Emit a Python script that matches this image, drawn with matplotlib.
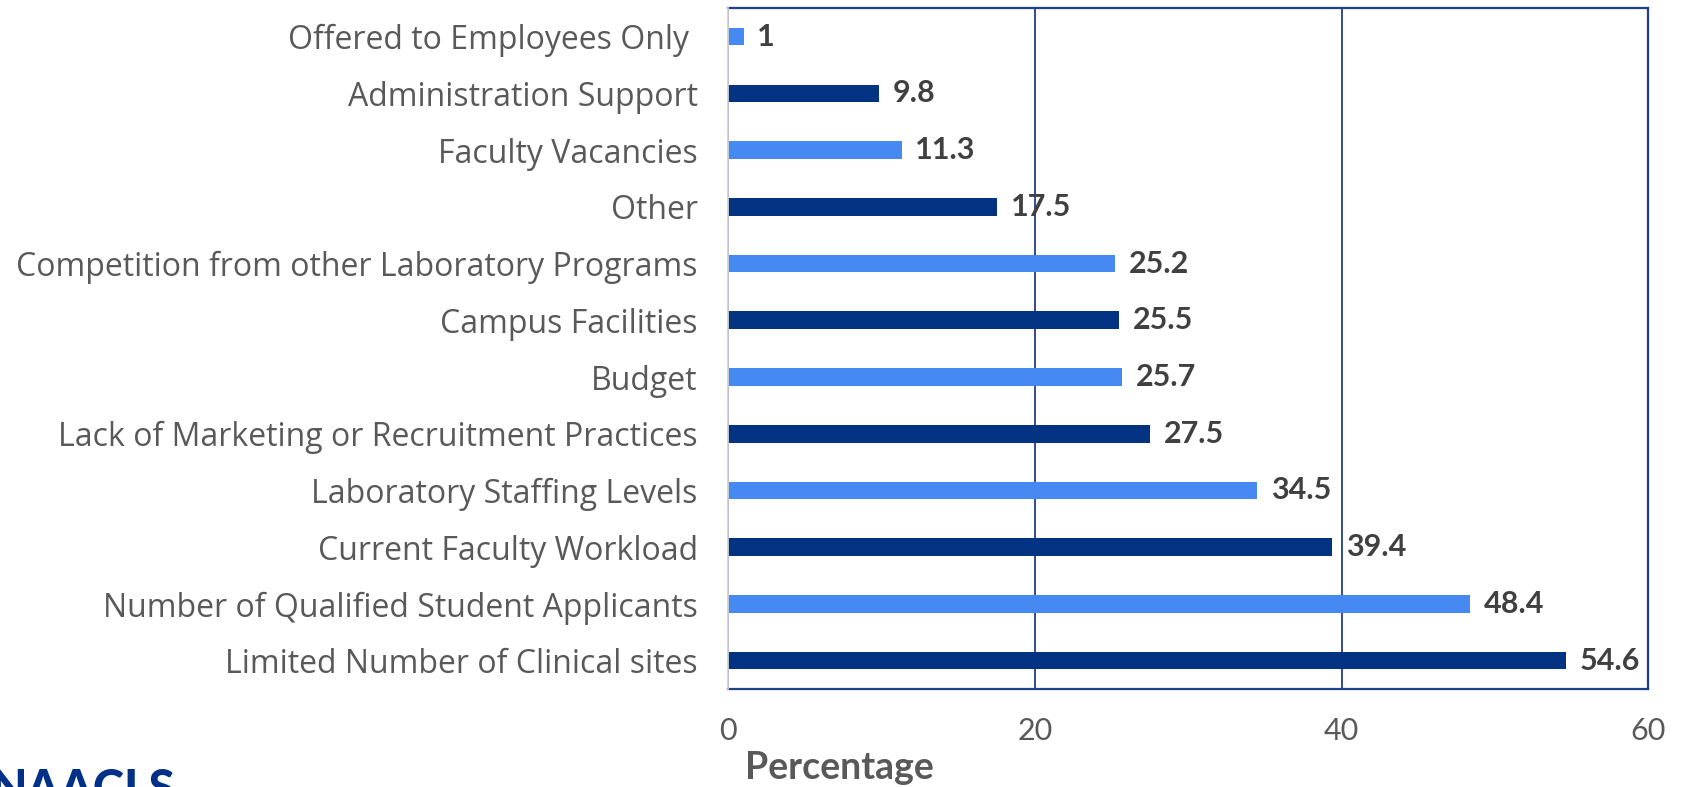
import numpy as np
import matplotlib.pyplot as plt

plt.rcParams['font.family'] = ['Lato', 'DejaVu Sans']

# categories listed from bottom to top
categories = [
    "Limited Number of Clinical sites",
    "Number of Qualified Student Applicants",
    "Current Faculty Workload",
    "Laboratory Staffing Levels",
    "Lack of Marketing or Recruitment Practices",
    "Budget",
    "Campus Facilities",
    "Competition from other Laboratory Programs",
    "Other",
    "Faculty Vacancies",
    "Administration Support",
    "Offered to Employees Only ",
]
values = [54.6, 48.4, 39.4, 34.5, 27.5, 25.7, 25.5, 25.2, 17.5, 11.3, 9.8, 1]
value_labels = ["54.6", "48.4", "39.4", "34.5", "27.5", "25.7", "25.5", "25.2",
                "17.5", "11.3", "9.8", "1"]
x_ticks = [0, 20, 40, 60]

dark = '#023382'
light = '#4689F3'
navy = '#1F3F8C'
bar_colors = [dark if i % 2 == 0 else light for i in range(len(values))]

fig = plt.figure(figsize=(16.82, 7.87), dpi=100)
ax = fig.add_axes([0.433, 0.1245, 0.547, 0.865])

y = np.arange(len(categories))
ax.barh(y, values, height=0.31, color=bar_colors, zorder=3)

for yi, v, lab in zip(y, values, value_labels):
    ax.text(v + 0.9, yi, lab, va='center', ha='left', fontsize=22,
            fontweight='bold', color='#404040', zorder=4)

ax.set_xlim(0, 60)
ax.set_ylim(-0.5, len(categories) - 0.5)
ax.set_yticks(y)
ax.set_yticklabels(categories, fontsize=23, color='#595959',
                   family=['Open Sans', 'DejaVu Sans'])
ax.set_xticks(x_ticks)
ax.set_xticklabels([str(t) for t in x_ticks], fontsize=22, color='#595959')
ax.tick_params(axis='both', length=0)
ax.tick_params(axis='y', pad=22)
ax.tick_params(axis='x', pad=20)

ax.grid(axis='x', color=navy, linewidth=1.3, zorder=1)
for side in ['top', 'right', 'bottom']:
    ax.spines[side].set_color(navy)
    ax.spines[side].set_linewidth(1.6)
ax.spines['left'].set_color('#D0D0D0')
ax.spines['left'].set_linewidth(1.3)
ax.spines['left'].set_zorder(5)

fig.text(0.4988, 1 - 768 / 787, "Percentage", ha='center', va='center',
         fontsize=27, fontweight='bold', color='#595959')

# logo text, cut off by the lower edge as in the source
fig.text(-0.006, 1 - 768 / 787, "NAACLS", ha='left', va='top',
         fontsize=34, fontweight='black', color='#003087')

fig.savefig('out.png', dpi=100)
